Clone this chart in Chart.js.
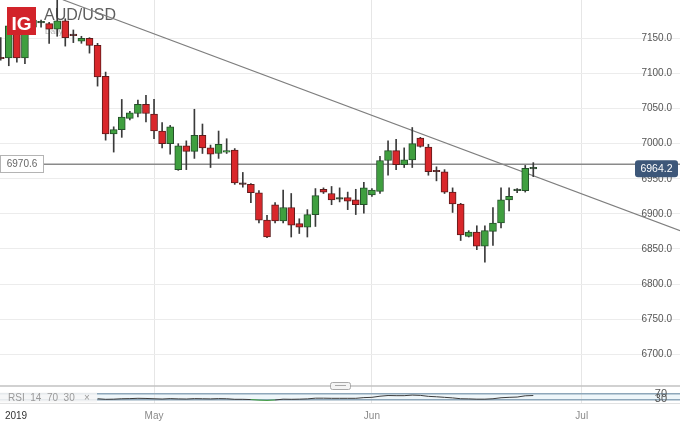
<!DOCTYPE html>
<html>
<head>
<meta charset="utf-8">
<script src="https://cdn.jsdelivr.net/npm/chart.js@4.4.1/dist/chart.umd.min.js"></script>
<style>
  html, body { margin: 0; padding: 0; background: #fff; }
</style>
</head>
<body>
<canvas id="chart" width="680" height="423"></canvas>
<script>
// AUD/USD daily candles (x100), Apr 9 - Jun 25 2019, Sunday sessions included

const dates = [
  'Apr 09', 'Apr 10', 'Apr 11', 'Apr 12', 'Apr 14', 'Apr 15', 'Apr 16', 'Apr 17', 'Apr 18', 'Apr 19',
  'Apr 21', 'Apr 22', 'Apr 23', 'Apr 24', 'Apr 25', 'Apr 26', 'Apr 28', 'Apr 29', 'Apr 30', 'May 01',
  'May 02', 'May 03', 'May 05', 'May 06', 'May 07', 'May 08', 'May 09', 'May 10', 'May 12', 'May 13',
  'May 14', 'May 15', 'May 16', 'May 17', 'May 19', 'May 20', 'May 21', 'May 22', 'May 23', 'May 24',
  'May 26', 'May 27', 'May 28', 'May 29', 'May 30', 'May 31', 'Jun 02', 'Jun 03', 'Jun 04', 'Jun 05',
  'Jun 06', 'Jun 07', 'Jun 09', 'Jun 10', 'Jun 11', 'Jun 12', 'Jun 13', 'Jun 14', 'Jun 16', 'Jun 17',
  'Jun 18', 'Jun 19', 'Jun 20', 'Jun 21', 'Jun 23', 'Jun 24', 'Jun 25'
];

const opens = [
  7122, 7122, 7170, 7122, 7166, 7172, 7171, 7163, 7175, 7155,
  7146, 7150, 7140, 7096, 7014, 7020, 7036, 7043, 7056, 7042,
  7018, 7000, 6963, 6997, 6989, 7012, 6994, 6986, 6988, 6991,
  6943, 6942, 6930, 6891, 6913, 6890, 6909, 6886, 6881, 6899,
  6935, 6929, 6921, 6923, 6920, 6913, 6927, 6932, 6976, 6990,
  6970, 6977, 7008, 6995, 6961, 6960, 6931, 6914, 6868, 6874,
  6854, 6875, 6887, 6920, 6933, 6933, 6964
];
const highs = [
  7151, 7182, 7178, 7175, 7184, 7176, 7173, 7206, 7178, 7162,
  7153, 7151, 7143, 7102, 7024, 7063, 7046, 7062, 7069, 7063,
  7030, 7026, 7000, 7004, 7049, 7028, 6998, 7018, 7007, 6993,
  6959, 6943, 6933, 6898, 6916, 6934, 6929, 6893, 6906, 6936,
  6937, 6939, 6937, 6931, 6935, 6945, 6936, 6982, 7004, 7006,
  6994, 7023, 7009, 6999, 6967, 6963, 6937, 6915, 6876, 6883,
  6883, 6909, 6937, 6937, 6936, 6969, 6973
];
const lows = [
  7119, 7111, 7116, 7114, 7158, 7166, 7143, 7153, 7139, 7144,
  7143, 7129, 7082, 7005, 6988, 7009, 7034, 7038, 7031, 7007,
  6994, 6985, 6962, 6963, 6979, 6986, 6966, 6979, 6986, 6942,
  6938, 6916, 6887, 6866, 6887, 6887, 6867, 6872, 6867, 6882,
  6929, 6913, 6917, 6906, 6899, 6901, 6925, 6929, 6955, 6963,
  6966, 6966, 6995, 6955, 6947, 6929, 6902, 6862, 6867, 6849,
  6831, 6855, 6880, 6904, 6930, 6931, 6953
];
const closes = [
  7121, 7168, 7122, 7166, 7176, 7172, 7163, 7175, 7151, 7154,
  7150, 7140, 7095, 7014, 7020, 7038, 7044, 7056, 7043, 7018,
  7000, 7024, 6997, 6989, 7012, 6994, 6985, 6999, 6990, 6944,
  6942, 6930, 6891, 6867, 6890, 6909, 6884, 6881, 6899, 6926,
  6931, 6920, 6922, 6918, 6913, 6937, 6934, 6976, 6990, 6970,
  6977, 7000, 6996, 6960, 6960, 6931, 6914, 6870, 6874, 6854,
  6876, 6887, 6920, 6925, 6934, 6965, 6964.2
];

// RSI(14) panel, first value sits under candle index rsiStart
const rsiStart = 12;
const rsiValues = [
  34, 30, 31, 34, 35, 37, 36, 34, 32, 35,
  33, 32, 35, 34, 33, 35, 34, 30, 30, 28,
  24, 22, 25, 31, 30, 31, 33, 38, 38, 37,
  37, 37, 37, 42, 44, 52, 57, 56, 56, 60,
  58, 51, 48, 44, 40, 34, 33, 31, 31, 34,
  41, 44, 46, 55, 57
];

const hLevel = 6970.6;
const lastPrice = 6964.2;
const trendFrom = [7.7, 7205];
const trendTo = [84.2, 6876];

const xMin = -0.09, xMax = 84.18;
const tickPos = [1.9, 19, 46, 72];
const tickLabels = ['2019', 'May', 'Jun', 'Jul'];
const priceTicks = [6700, 6750, 6800, 6850, 6900, 6950, 7000, 7050, 7100, 7150];
const rsiTicks = [30, 70];

const FONT = "'Liberation Sans', Arial, sans-serif";
const upFill = '#3f9f3f', upLine = '#25502a';
const downFill = '#d9272b', downLine = '#5e1b1b';

const bodies = dates.map((d, i) => ({ x: i, y: [opens[i], closes[i]] }));
const wicks = dates.map((d, i) => ({ x: i, y: [lows[i], highs[i]] }));
const isUp = i => closes[i] >= opens[i];

const decor = {
  id: 'decor',
  beforeDraw(chart) {
    const { ctx, chartArea: a, scales: { rsi } } = chart;
    const y70 = rsi.getPixelForValue(70), y30 = rsi.getPixelForValue(30);
    ctx.save();
    ctx.fillStyle = '#eef6fa';
    ctx.fillRect(a.left, y70, a.right - a.left, y30 - y70);
    ctx.restore();
  },
  beforeDatasetsDraw(chart) {
    const { ctx, chartArea: a, scales: { rsi } } = chart;
    ctx.save();
    // panel separators
    ctx.strokeStyle = '#c2c2c2';
    ctx.lineWidth = 1.5;
    ctx.beginPath();
    ctx.moveTo(a.left, rsi.top);
    ctx.lineTo(a.right, rsi.top);
    ctx.stroke();
    ctx.strokeStyle = '#e2e2e2';
    ctx.lineWidth = 1;
    ctx.beginPath();
    ctx.moveTo(a.left, rsi.bottom - 0.5);
    ctx.lineTo(a.right, rsi.bottom - 0.5);
    ctx.stroke();
    // instrument title
    ctx.fillStyle = '#5e5e5e';
    ctx.font = '16px ' + FONT;
    ctx.textBaseline = 'alphabetic';
    ctx.fillText('AUD/USD', 44, 20);
    ctx.fillStyle = '#b0b0b0';
    ctx.font = '8px ' + FONT;
    ctx.fillText('Daily', 45, 34);
    ctx.restore();
  },
  afterDraw(chart) {
    const { ctx, scales: { y, rsi } } = chart;
    ctx.save();
    // IG logo
    ctx.fillStyle = '#d2232a';
    ctx.fillRect(7, 7, 29, 28);
    ctx.fillStyle = '#fff';
    ctx.font = 'bold 19px ' + FONT;
    ctx.textAlign = 'center';
    ctx.textBaseline = 'alphabetic';
    ctx.fillText('IG', 21.5, 30);

    // left level tag
    const yh = Math.round(y.getPixelForValue(hLevel));
    ctx.fillStyle = '#fff';
    ctx.fillRect(0.5, yh - 8.5, 43, 17);
    ctx.strokeStyle = '#b4b4b4';
    ctx.lineWidth = 1;
    ctx.strokeRect(0.5, yh - 8.5, 43, 17);
    ctx.fillStyle = '#666';
    ctx.font = '10px ' + FONT;
    ctx.textBaseline = 'middle';
    ctx.fillText(hLevel.toFixed(1), 22, yh);

    // last price tag
    const yp = y.getPixelForValue(lastPrice);
    ctx.fillStyle = '#3d5779';
    ctx.beginPath();
    ctx.roundRect(635, yp - 8.5, 43, 17, 3);
    ctx.fill();
    ctx.fillStyle = '#fff';
    ctx.font = '10.5px ' + FONT;
    ctx.fillText(lastPrice.toFixed(1), 656.5, yp + 0.5);

    // pane resize handle
    ctx.fillStyle = '#f4f4f4';
    ctx.strokeStyle = '#a8a8a8';
    ctx.beginPath();
    ctx.roundRect(330.5, rsi.top - 3.5, 20, 7, 2);
    ctx.fill();
    ctx.stroke();
    ctx.beginPath();
    ctx.moveTo(335, rsi.top - 0.5);
    ctx.lineTo(346, rsi.top - 0.5);
    ctx.stroke();

    // RSI legend
    const ym = (rsi.getPixelForValue(70) + rsi.getPixelForValue(30)) / 2 + 1;
    ctx.fillStyle = 'rgba(246,246,246,0.85)';
    ctx.fillRect(0, ym - 5, 97, 10);
    ctx.fillStyle = '#9a9a9a';
    ctx.font = '10px ' + FONT;
    ctx.textAlign = 'left';
    ctx.fillText('RSI  14  70  30', 8, ym + 0.5);
    ctx.fillText('\u00d7', 84, ym + 0.5);
    ctx.restore();
  }
};

new Chart(document.getElementById('chart'), {
  type: 'bar',
  data: {
    datasets: [
      {
        label: 'body',
        data: bodies,
        backgroundColor: dates.map((d, i) => Math.abs(closes[i] - opens[i]) < 1.5 ? '#333' : (isUp(i) ? upFill : downFill)),
        borderColor: dates.map((d, i) => isUp(i) ? upLine : downLine),
        borderWidth: 1,
        borderSkipped: false,
        barThickness: 7,
        minBarLength: 1.5,
        grouped: false,
        order: 1
      },
      {
        label: 'wick',
        data: wicks,
        backgroundColor: '#3a3a3a',
        borderWidth: 0,
        barThickness: 1,
        grouped: false,
        order: 2
      },
      {
        type: 'line',
        label: 'level',
        data: [{ x: xMin, y: hLevel }, { x: xMax, y: hLevel }],
        borderColor: '#8a8a8a',
        borderWidth: 1.5,
        pointRadius: 0,
        order: 3
      },
      {
        type: 'line',
        label: 'trend',
        data: [{ x: trendFrom[0], y: trendFrom[1] }, { x: trendTo[0], y: trendTo[1] }],
        borderColor: '#7e7e7e',
        borderWidth: 1.2,
        pointRadius: 0,
        order: 3
      },
      {
        type: 'line',
        label: 'RSI',
        yAxisID: 'rsi',
        data: rsiValues.map((v, i) => ({ x: rsiStart + i, y: v })),
        borderColor: '#3c3c3c',
        borderWidth: 1,
        pointRadius: 0,
        segment: {
          borderColor: c => (c.p0.parsed.y < 30 && c.p1.parsed.y < 30) ? '#3a9a3a' : undefined
        },
        order: 3
      }
    ]
  },
  options: {
    responsive: false,
    animation: false,
    devicePixelRatio: 1,
    layout: { padding: 0 },
    plugins: {
      legend: { display: false },
      tooltip: { enabled: false }
    },
    scales: {
      x: {
        type: 'linear',
        min: xMin,
        max: xMax,
        offset: false,
        grid: {
          offset: false,
          drawTicks: false,
          color: c => c.index === 0 ? 'rgba(0,0,0,0)' : '#e6e6e6'
        },
        border: { display: false },
        afterBuildTicks: s => { s.ticks = tickPos.map(v => ({ value: v })); },
        afterFit: s => { s.height = 19; s.paddingLeft = 0; s.paddingRight = 0; },
        ticks: {
          autoSkip: false,
          maxRotation: 0,
          padding: 6,
          font: { size: 10, family: FONT },
          color: c => c.index === 0 ? '#333' : '#8a8a8a',
          callback: (v, i) => tickLabels[i]
        }
      },
      y: {
        type: 'linear',
        position: 'right',
        stack: 'panes',
        stackWeight: 386,
        min: 6654.7,
        max: 7204.7,
        grid: { color: '#ececec', drawTicks: false },
        border: { display: false },
        afterBuildTicks: s => { s.ticks = priceTicks.map(v => ({ value: v })); },
        afterFit: s => { s.width = 0; s.paddingTop = 0; s.paddingBottom = 0; },
        ticks: {
          autoSkip: false,
          mirror: true,
          padding: -8,
          font: { size: 10, family: FONT },
          color: '#555',
          callback: v => v.toFixed(1)
        }
      },
      rsi: {
        type: 'linear',
        position: 'right',
        stack: 'panes',
        stackWeight: 18,
        min: -3.6,
        max: 125,
        grid: { color: '#8ea7ba', lineWidth: 1.5, drawTicks: false },
        border: { display: false },
        afterBuildTicks: s => { s.ticks = rsiTicks.map(v => ({ value: v })); },
        afterFit: s => { s.width = 0; s.paddingTop = 0; s.paddingBottom = 0; },
        ticks: {
          autoSkip: false,
          mirror: true,
          padding: -13,
          font: { size: 11, family: FONT },
          color: '#555',
          callback: v => String(v)
        }
      }
    }
  },
  plugins: [decor]
});
</script>
</body>
</html>
